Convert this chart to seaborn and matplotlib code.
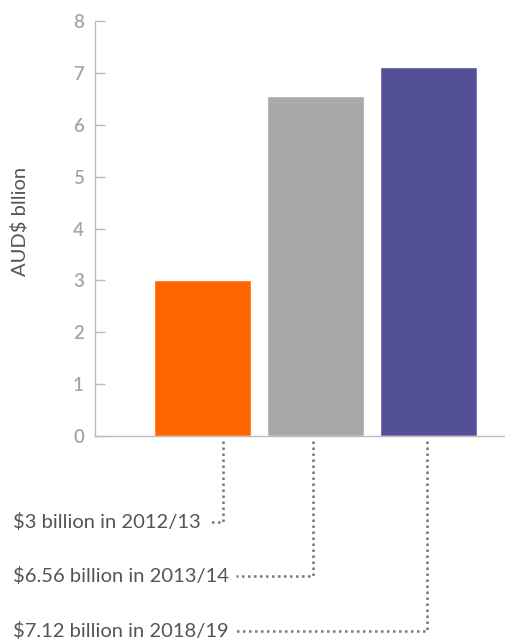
import matplotlib
matplotlib.use("Agg")
import matplotlib.pyplot as plt
import seaborn as sns
import pandas as pd

years = ["2012/13", "2013/14", "2018/19"]
values = [3.0, 6.56, 7.12]
labels = ["$3 billion in 2012/13", "$6.56 billion in 2013/14", "$7.12 billion in 2018/19"]
colors = ["#FF6600", "#A9A9A9", "#535097"]
yticks = [0, 1, 2, 3, 4, 5, 6, 7, 8]

sns.set_style("white")
plt.rcParams["font.family"] = ["Lato", "DejaVu Sans"]

df = pd.DataFrame({"year": years, "value": values})

fig = plt.figure(figsize=(5.06, 6.44), dpi=100)
ax = fig.add_axes([95 / 506, 1 - 436 / 644, 1 - 95 / 506, (436 - 21) / 644])

sns.barplot(data=df, x="year", y="value", hue="year", palette=colors,
            width=0.86, saturation=1, legend=False, ax=ax)

ax.set_ylim(0, 8)
ax.set_xlim(-0.951, 2.686)
ax.set_yticks(yticks)
ax.set_yticklabels([str(t) for t in yticks])
ax.set_xticks([])
ax.set_xlabel("")
ax.set_ylabel("AUD$ bllion", color="#555555", fontsize=14.5)
ax.yaxis.set_label_coords(-0.182, 0.516)
ax.yaxis.label.set_verticalalignment("center")

for s in ["top", "right"]:
    ax.spines[s].set_visible(False)
for s in ["left", "bottom"]:
    ax.spines[s].set_color("#BBBBBB")
    ax.spines[s].set_linewidth(1.0)
ax.tick_params(axis="y", left=True, direction="in", length=7.5, width=1,
               color="#BBBBBB", labelcolor="#A5A5A5", labelsize=13.5, pad=8)
for lab in ax.get_yticklabels():
    lab.set_fontweight("semibold")

# annotations below the axis
conn_x = [0.18, 0.98, 1.99]
label_y = [-1.66, -2.70, -3.76]
fig.canvas.draw()
renderer = fig.canvas.get_renderer()
inv = ax.transData.inverted()
for i in range(len(years)):
    t = fig.text(13 / 506, 0, labels[i], color="#555555", fontsize=14.5,
                 va="center", ha="left")
    ypix = ax.transData.transform((0, label_y[i]))[1]
    t.set_y(ypix / fig.bbox.height)
    bb = t.get_window_extent(renderer)
    x_start = inv.transform((bb.x1 + 7, 0))[0]
    ax.plot([conn_x[i], conn_x[i], x_start], [-0.1, label_y[i], label_y[i]],
            color="#777777", lw=1.8, linestyle=(0, (1, 1.4)), clip_on=False,
            dash_capstyle="butt")

fig.savefig("out.png", dpi=100)
